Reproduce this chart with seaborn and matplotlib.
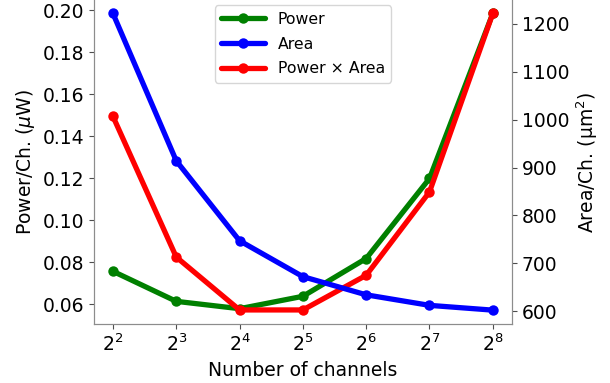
import matplotlib
matplotlib.use('Agg')
import matplotlib.pyplot as plt
import matplotlib.ticker as mticker
import pandas as pd
import seaborn as sns

channels = [4, 8, 16, 32, 64, 128, 256]
power = [0.0757, 0.0614, 0.0579, 0.0638, 0.0818, 0.1199, 0.1985]
area = [1222, 914, 747, 672, 634, 612, 602]
power_area = [0.1495, 0.0825, 0.0573, 0.0573, 0.0738, 0.1135, 0.1985]

sns.set_style('ticks', {'axes.edgecolor': '0.55', 'xtick.color': '0.3', 'ytick.color': '0.3',
                        'axes.labelcolor': 'black', 'text.color': 'black'})
plt.rcParams['font.family'] = ['DejaVu Sans']
plt.rcParams['font.size'] = 13.5

df = pd.DataFrame({'ch': channels, 'power': power, 'area': area, 'pa': power_area})

fig, ax = plt.subplots(figsize=(6.1, 3.83), dpi=100)
ax2 = ax.twinx()

lw = 3.8
ms = 7.5
sns.lineplot(data=df, x='ch', y='power', ax=ax, color='green', lw=lw, marker='o',
             markersize=ms, markeredgewidth=0, label='Power', legend=False)
sns.lineplot(data=df, x='ch', y='area', ax=ax2, color='blue', lw=lw, marker='o',
             markersize=ms, markeredgewidth=0, label='Area', legend=False)
sns.lineplot(data=df, x='ch', y='pa', ax=ax, color='red', lw=lw, marker='o',
             markersize=ms, markeredgewidth=0, label='Power × Area', legend=False)

ax.set_xscale('log', base=2)
ax.xaxis.set_major_locator(mticker.FixedLocator(channels))
ax.xaxis.set_major_formatter(mticker.LogFormatterMathtext(base=2))
ax.xaxis.set_minor_locator(mticker.NullLocator())
ax.set_yticks([0.06, 0.08, 0.10, 0.12, 0.14, 0.16, 0.18, 0.20])
ax.yaxis.set_major_formatter(mticker.FormatStrFormatter('%.2f'))
ax.set_ylim(0.0506, 0.2049)
ax2.set_yticks([600, 700, 800, 900, 1000, 1100, 1200])
ax2.set_ylim(573, 1250)

ax.set_xlabel('Number of channels', color='black')
ax.set_ylabel(r'Power/Ch. ($\mu$W)', color='black')
ax2.set_ylabel('Area/Ch. (μm$^2$)', color='black')

for a in (ax, ax2):
    a.spines['top'].set_visible(False)
    a.tick_params(labelsize=13.5, labelcolor='black')

h1, l1 = ax.get_legend_handles_labels()
h2, l2 = ax2.get_legend_handles_labels()
handles = [h1[0], h2[0], h1[1]]
labels = [l1[0], l2[0], l1[1]]
leg = ax.legend(handles, labels, loc='upper center', fontsize=11.3, frameon=True,
                handlelength=2.8, labelspacing=0.62, borderaxespad=0.35)
for t in leg.get_texts():
    t.set_color('black')

fig.subplots_adjust(left=0.154, right=0.839, bottom=0.154, top=1.0)
fig.savefig('out.png', dpi=100)
